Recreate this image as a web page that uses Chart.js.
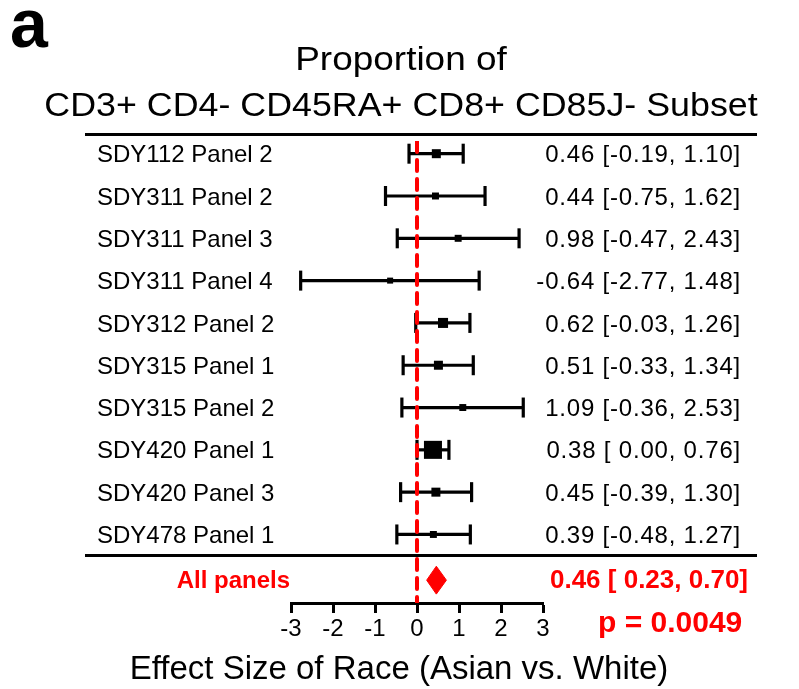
<!DOCTYPE html>
<html>
<head>
<meta charset="utf-8">
<title>Forest plot</title>
<script src="https://cdn.jsdelivr.net/npm/chart.js@4.4.1/dist/chart.umd.min.js"></script>
<style>
  html, body { margin: 0; padding: 0; background: #fff; }
  #wrap { width: 799px; height: 689px; position: relative; }
</style>
</head>
<body>
<div id="wrap"><canvas id="forest"></canvas></div>
<script>
// --- Data ---

const studies = [
    'SDY112 Panel 2', 'SDY311 Panel 2', 'SDY311 Panel 3', 'SDY311 Panel 4',
    'SDY312 Panel 2', 'SDY315 Panel 1', 'SDY315 Panel 2', 'SDY420 Panel 1',
    'SDY420 Panel 3', 'SDY478 Panel 1'
];
const estimate = [0.46, 0.44, 0.98, -0.64, 0.62, 0.51, 1.09, 0.38, 0.45, 0.39];
const lower    = [-0.19, -0.75, -0.47, -2.77, -0.03, -0.33, -0.36, 0.00, -0.39, -0.48];
const upper    = [1.10, 1.62, 2.43, 1.48, 1.26, 1.34, 2.53, 0.76, 1.30, 1.27];
// relative study weights (%), used for the box sizes
const weights  = [9.0, 5.4, 5.4, 4.0, 11.2, 9.0, 5.4, 36.1, 9.0, 5.4];

const pooledLabel = 'All panels';
const pooled = [0.46, 0.23, 0.70];   // estimate, lower, upper
const pValue = 'p = 0.0049';

const xTicks = [-3, -2, -1, 0, 1, 2, 3];
const titleLines = ['Proportion of', 'CD3+ CD4- CD45RA+ CD8+ CD85J- Subset'];
const xTitle = 'Effect Size of Race (Asian vs. White)';
const panelTag = 'a';

// --- Layout constants ---

const FONT = "'Liberation Sans', Arial, Helvetica, sans-serif";
const Y_MIN = -0.3;          // top of plot area (row units)
const Y_MAX = 10.62;         // x axis position
const SUMMARY_ROW = 10.08;   // row of the pooled diamond
const DIAMOND_H = 0.33;      // half height of the diamond (row units)
const TOP_RULE = -0.46;
const MID_RULE = 9.49;
const BOX_K = 3.0;           // box side (px) per sqrt(weight)

function fmtCI(v) {
    const s = v.toFixed(2);
    return v < 0 ? s : ' ' + s;
}
function ciText(e, lo, hi) {
    return e.toFixed(2) + ' [' + fmtCI(lo) + ', ' + hi.toFixed(2) + ']';
}

// --- Datasets ---

const datasets = [];

// zero reference line (on top)
datasets.push({
    data: [{ x: 0, y: Y_MIN }, { x: 0, y: Y_MAX }],
    borderColor: '#ff0000',
    borderWidth: 4,
    borderDash: [11, 8],
    borderCapStyle: 'round',
    pointRadius: 0,
    order: 0
});

// study whiskers with caps
studies.forEach((s, i) => {
    datasets.push({
        data: [{ x: lower[i], y: i }, { x: upper[i], y: i }],
        borderColor: '#000',
        borderWidth: 3.2,
        pointStyle: 'line',
        rotation: 90,
        pointRadius: 10,
        pointBorderWidth: 3.2,
        pointBorderColor: '#000',
        order: 2
    });
});

// study boxes
datasets.push({
    data: estimate.map((e, i) => ({ x: e, y: i })),
    showLine: false,
    pointStyle: 'rect',
    pointRadius: weights.map(w => BOX_K * Math.sqrt(w) / Math.SQRT2),
    pointBackgroundColor: '#000',
    pointBorderWidth: 0,
    order: 1
});

// pooled diamond
datasets.push({
    data: [
        { x: pooled[1], y: SUMMARY_ROW },
        { x: pooled[0], y: SUMMARY_ROW - DIAMOND_H },
        { x: pooled[2], y: SUMMARY_ROW },
        { x: pooled[0], y: SUMMARY_ROW + DIAMOND_H },
        { x: pooled[1], y: SUMMARY_ROW }
    ],
    borderColor: '#ff0000',
    backgroundColor: '#ff0000',
    borderWidth: 1,
    fill: 'shape',
    pointRadius: 0,
    order: 1
});

// --- Text and rules around the plot ---

const forestText = {
    id: 'forestText',
    afterDraw(chart) {
        const ctx = chart.ctx;
        const ys = chart.scales.y;
        ctx.save();

        // horizontal rules
        ctx.strokeStyle = '#000';
        ctx.lineWidth = 3;
        [TOP_RULE, MID_RULE].forEach(v => {
            const y = Math.round(ys.getPixelForValue(v)) + 0.5;
            ctx.beginPath();
            ctx.moveTo(85, y);
            ctx.lineTo(757, y);
            ctx.stroke();
        });

        // study labels and CI text
        ctx.fillStyle = '#000';
        ctx.textBaseline = 'alphabetic';
        studies.forEach((s, i) => {
            const y = ys.getPixelForValue(i) + 8.6;
            ctx.font = '24px ' + FONT;
            ctx.textAlign = 'left';
            ctx.fillText(s, 97, y);
            ctx.textAlign = 'right';
            ctx.letterSpacing = '0.8px';
            ctx.fillText(ciText(estimate[i], lower[i], upper[i]), 741, y);
            ctx.letterSpacing = '0px';
        });

        // pooled row
        const yS = ys.getPixelForValue(SUMMARY_ROW);
        ctx.fillStyle = '#ff0000';
        ctx.font = 'bold 24px ' + FONT;
        ctx.textAlign = 'right';
        ctx.fillText(pooledLabel, 290, yS + 8);
        ctx.font = 'bold 26px ' + FONT;
        ctx.fillText(ciText(pooled[0], pooled[1], pooled[2]), 748, yS + 8);
        ctx.font = 'bold 30px ' + FONT;
        ctx.textAlign = 'left';
        ctx.fillText(pValue, 598, 632);

        // title (drawn slightly stretched as in the figure)
        ctx.fillStyle = '#000';
        ctx.font = '33px ' + FONT;
        ctx.textAlign = 'center';
        [[titleLines[0], 70, 1.12], [titleLines[1], 116, 1.085]].forEach(([t, y, sx]) => {
            ctx.save();
            ctx.translate(401, y);
            ctx.scale(sx, 1);
            ctx.fillText(t, 0, 0);
            ctx.restore();
        });

        // x axis title
        ctx.font = '33px ' + FONT;
        ctx.fillText(xTitle, 399, 679);

        // panel tag
        ctx.font = 'bold 68px ' + FONT;
        ctx.textAlign = 'left';
        ctx.fillText(panelTag, 10, 47);

        ctx.restore();
    }
};

// --- Chart ---

new Chart(document.getElementById('forest'), {
    type: 'line',
    data: { datasets },
    options: {
        responsive: true,
        maintainAspectRatio: false,
        animation: false,
        events: [],
        layout: { padding: { left: 291, right: 256, top: 141, bottom: 46 } },
        plugins: {
            legend: { display: false },
            tooltip: { enabled: false }
        },
        scales: {
            x: {
                type: 'linear',
                min: xTicks[0],
                max: xTicks[xTicks.length - 1],
                afterBuildTicks: scale => { scale.ticks = xTicks.map(v => ({ value: v })); },
                afterFit: scale => { scale.height = 40; },
                border: { display: true, color: '#000', width: 3 },
                grid: {
                    drawOnChartArea: false,
                    drawTicks: true,
                    tickLength: 10,
                    tickWidth: 3,
                    tickColor: '#000'
                },
                ticks: {
                    color: '#000',
                    font: { family: FONT, size: 24 },
                    padding: 2,
                    maxRotation: 0,
                    autoSkip: false
                }
            },
            y: {
                type: 'linear',
                reverse: true,
                min: Y_MIN,
                max: Y_MAX,
                display: false
            }
        }
    },
    plugins: [forestText]
});
</script>
</body>
</html>
